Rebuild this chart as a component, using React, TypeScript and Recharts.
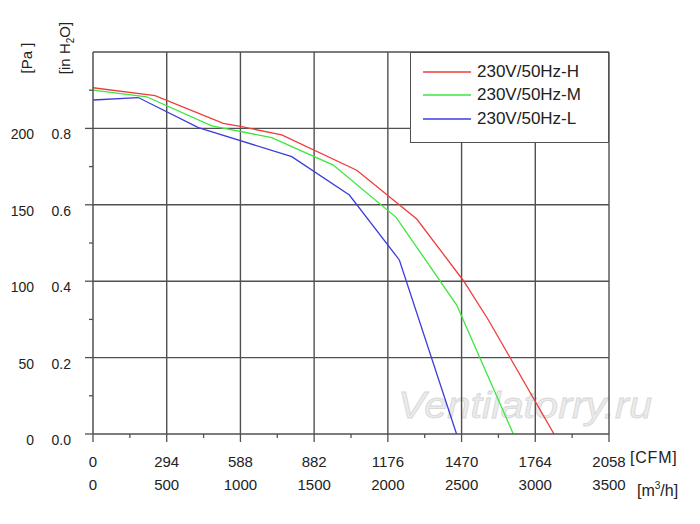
import React from 'react';
import { LineChart, Line, XAxis, YAxis, ReferenceLine, Legend } from 'recharts';

// axis ticks
const m3hTicks = [0, 500, 1000, 1500, 2000, 2500, 3000, 3500];
const m3hMinorTicks = [250, 750, 1250, 1750, 2250, 2750, 3250];
const cfmLabels = ['0', '294', '588', '882', '1176', '1470', '1764', '2058'];
const paTicks = [0, 50, 100, 150, 200];
const paMinorTicks = [25, 75, 125, 175, 225];
const inH2oLabels = ['0.0', '0.2', '0.4', '0.6', '0.8'];

// curves (m3/h vs Pa)
const flowH = [0, 421, 884, 1009, 1280, 1789, 2196, 2513, 2682, 3127];
const pressureH = [226.6, 221.4, 203.3, 201.1, 195.7, 172.6, 140.7, 100.3, 74.6, 0];
const flowM = [0, 364, 805, 1212, 1630, 2056, 2467, 2851];
const pressureM = [225.1, 220.7, 201.7, 194, 176, 141.8, 84.4, 0];
const flowL = [0, 307, 715, 1348, 1739, 2078, 2466];
const pressureL = [218.6, 220.2, 200.5, 181.5, 156.4, 113.9, 0];

const toRows = (flow: number[], pa: number[]) => flow.map((f, i) => ({ m3h: f, pa: pa[i] }));

const series = [
  { name: '230V/50Hz-H', color: '#f03c3c', data: toRows(flowH, pressureH) },
  { name: '230V/50Hz-M', color: '#3ce63c', data: toRows(flowM, pressureM) },
  { name: '230V/50Hz-L', color: '#3c3cdc', data: toRows(flowL, pressureL) },
];

const GRID = '#505050';
const TEXT = '#222';

const XTick = (props: any) => {
  const { x, y, payload } = props;
  const idx = m3hTicks.indexOf(payload.value);
  if (idx < 0) {
    return <line x1={x} x2={x} y1={y} y2={y + 4} stroke={GRID} strokeWidth={1.3} />;
  }
  return (
    <g>
      <line x1={x} x2={x} y1={y} y2={y + 8} stroke={GRID} strokeWidth={1.3} />
      <text x={x} y={y + 33} textAnchor="middle" fontSize={15} fill={TEXT}>{cfmLabels[idx]}</text>
      <text x={x} y={y + 56} textAnchor="middle" fontSize={15} fill={TEXT}>{payload.value}</text>
    </g>
  );
};

const YTick = (props: any) => {
  const { x, y, payload } = props;
  const idx = paTicks.indexOf(payload.value);
  if (idx < 0) {
    if (payload.value > 240) return <g />;
    return <line x1={x - 4} x2={x} y1={y} y2={y} stroke={GRID} strokeWidth={1.3} />;
  }
  return (
    <g>
      <line x1={x - 8} x2={x} y1={y} y2={y} stroke={GRID} strokeWidth={1.3} />
      <text x={x - 59} y={y + 11} textAnchor="end" fontSize={14} fill={TEXT}>{payload.value}</text>
      <text x={x - 22} y={y + 11} textAnchor="end" fontSize={14} fill={TEXT}>{inH2oLabels[idx]}</text>
    </g>
  );
};

const LegendBox = () => (
  <div
    style={{
      width: 199,
      height: 91,
      boxSizing: 'border-box',
      background: '#fff',
      border: `1.5px solid ${GRID}`,
      paddingTop: 7,
      fontSize: 17,
      color: TEXT,
    }}
  >
    {series.map((s) => (
      <div key={s.name} style={{ display: 'flex', alignItems: 'center', height: 23.5 }}>
        <svg width={66} height={10} style={{ flex: 'none' }}>
          <line x1={12} x2={60} y1={5} y2={5} stroke={s.color} strokeWidth={1.5} />
        </svg>
        <span>{s.name}</span>
      </div>
    ))}
  </div>
);

export default function App() {
  const xTickValues = [...m3hTicks, ...m3hMinorTicks].sort((a, b) => a - b);
  const yTickValues = [...paTicks, ...paMinorTicks].sort((a, b) => a - b);

  return (
    <div style={{ position: 'absolute', left: 0, top: 0, width: 700, height: 524, background: '#fff', fontFamily: '"Liberation Sans", Arial, sans-serif' }}>
      {/* watermark sits under the chart */}
      <svg width={700} height={524} style={{ position: 'absolute', left: 0, top: 0 }}>
        <text x={398} y={418} fontSize={36} fontStyle="italic" fill="#ebebeb" stroke="#d8d8d8" strokeWidth={0.8} textLength={254} lengthAdjust="spacingAndGlyphs">
          Ventilatorry.ru
        </text>
      </svg>

      <div style={{ position: 'absolute', left: 0, top: 0 }}>
        <LineChart width={700} height={524} margin={{ top: 52, right: 91, bottom: 30, left: 0 }}>
          <XAxis
            dataKey="m3h"
            type="number"
            domain={[0, 3500]}
            ticks={xTickValues}
            interval={0}
            height={60}
            tickSize={0}
            tickMargin={0}
            tickLine={false}
            tick={<XTick />}
            axisLine={{ stroke: GRID, strokeWidth: 1.5 }}
            allowDataOverflow
          />
          <YAxis
            type="number"
            domain={[0, 250]}
            ticks={yTickValues}
            interval={0}
            width={93}
            tickSize={0}
            tickMargin={0}
            tickLine={false}
            tick={<YTick />}
            axisLine={{ stroke: GRID, strokeWidth: 1.5 }}
            allowDataOverflow
          />
          {m3hTicks.slice(1).map((v) => (
            <ReferenceLine key={'x' + v} x={v} stroke={GRID} strokeWidth={1.4} />
          ))}
          {[...paTicks.slice(1), 250].map((v) => (
            <ReferenceLine key={'y' + v} y={v} stroke={GRID} strokeWidth={1.4} />
          ))}
          {series.map((s) => (
            <Line
              key={s.name}
              data={s.data}
              dataKey="pa"
              name={s.name}
              type="linear"
              stroke={s.color}
              strokeWidth={1.3}
              dot={false}
              isAnimationActive={false}
            />
          ))}
          <Legend
            layout="vertical"
            align="center"
            verticalAlign="middle"
            content={<LegendBox />}
            wrapperStyle={{ position: 'absolute', left: 410, top: 52, width: 199, height: 91 }}
          />
        </LineChart>
      </div>

      {/* axis unit labels */}
      <svg width={700} height={524} style={{ position: 'absolute', left: 0, top: 0, pointerEvents: 'none' }}>
        <text transform="translate(32,58) rotate(-90)" textAnchor="middle" fontSize={15} fill={TEXT}>[Pa ]</text>
        <text transform="translate(70,48) rotate(-90)" textAnchor="middle" fontSize={15} fill={TEXT}>
          [in H<tspan fontSize={10} dy={4}>2</tspan><tspan dy={-4}>O]</tspan>
        </text>
        <text x={630} y={463} fontSize={16} fill={TEXT} letterSpacing={0.8}>[CFM]</text>
        <text x={637} y={496} fontSize={16} fill={TEXT}>
          [m<tspan fontSize={10} dy={-7}>3</tspan><tspan dy={7}>/h]</tspan>
        </text>
      </svg>
    </div>
  );
}
